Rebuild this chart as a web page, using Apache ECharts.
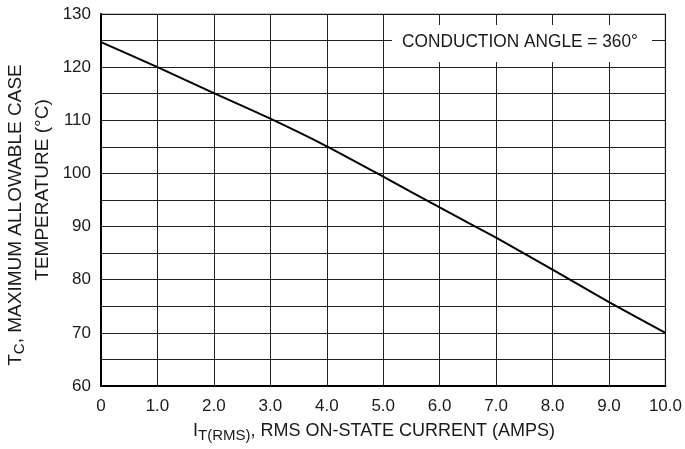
<!DOCTYPE html>
<html><head><meta charset="utf-8">
<script src="https://cdn.jsdelivr.net/npm/echarts@6/dist/echarts.min.js"></script>
<style>html,body{margin:0;padding:0;background:#fff}#c{width:685px;height:449px}</style>
</head><body><div id="c"></div>
<script>
var currentAmps = [0, 1, 2, 3, 4, 5, 6, 7, 8, 9, 10];
var caseTempC = [124.7, 120, 115.1, 110.3, 105.1, 99.4, 93.6, 87.9, 81.9, 75.8, 70];
var yTickLabels = [60, 70, 80, 90, 100, 110, 120, 130];
var noteText = 'CONDUCTION ANGLE = 360\u00b0';

var FONT = 'Liberation Sans';
var TXT = '#1a1a1a';
var chart = echarts.init(document.getElementById('c'), null, {renderer: 'canvas'});
chart.setOption({
  backgroundColor: '#fff',
  animation: false,
  grid: {left: 101, right: 19, top: 14, bottom: 63, show: false},
  xAxis: {
    type: 'value', min: 0, max: 10, interval: 1,
    axisLine: {show: true, onZero: false, lineStyle: {color: '#000', width: 2}},
    axisTick: {show: false},
    splitLine: {show: true, lineStyle: {color: '#222', width: 1}},
    axisLabel: {color: TXT, fontFamily: FONT, fontSize: 17, margin: 12,
      formatter: function (v) { return v === 0 ? '0' : v.toFixed(1); }}
  },
  yAxis: {
    type: 'value', min: 60, max: 130, interval: 5,
    axisLine: {show: true, onZero: false, lineStyle: {color: '#000', width: 2}},
    axisTick: {show: false},
    splitLine: {show: true, lineStyle: {color: '#222', width: 1}},
    axisLabel: {color: TXT, fontFamily: FONT, fontSize: 17, margin: 10,
      formatter: function (v) { return yTickLabels.indexOf(v) >= 0 ? String(v) : ''; }}
  },
  series: [{
    type: 'line', showSymbol: false, smooth: 0.2,
    lineStyle: {color: '#000', width: 2},
    data: currentAmps.map(function (x, i) { return [x, caseTempC[i]]; }),
    z: 5
  }, {
    type: 'line', silent: true, showSymbol: false,
    lineStyle: {color: '#111', width: 1.2},
    data: [[0, 130], [10, 130], [10, 60]],
    z: 4
  }],
  graphic: [
    {type: 'rect', shape: {x: 392, y: 25, width: 260, height: 37}, style: {fill: '#fff'}, z: 10},
    {type: 'text', x: 520, y: 42, scaleX: 0.96, z: 11, style: {text: noteText, font: '18px ' + FONT, fill: TXT, align: 'center', verticalAlign: 'middle'}},
    {type: 'text', x: 374, y: 431, z: 11, style: {
      text: '{b|I}{s|T(RMS)}{b|, RMS ON-STATE CURRENT (AMPS)}',
      align: 'center', verticalAlign: 'middle',
      rich: {b: {font: '18px ' + FONT, fill: TXT}, s: {font: '15px ' + FONT, fill: TXT, padding: [9, 0, 0, 0]}}
    }},
    {type: 'text', x: 16, y: 215, rotation: Math.PI / 2, z: 11, style: {
      text: '{b|T}{s|C}{b|, MAXIMUM ALLOWABLE CASE}',
      align: 'center', verticalAlign: 'middle',
      rich: {b: {font: '19px ' + FONT, fill: TXT}, s: {font: '15px ' + FONT, fill: TXT, padding: [8, 0, 0, 0]}}
    }},
    {type: 'text', x: 43, y: 190, rotation: Math.PI / 2, z: 11, style: {
      text: 'TEMPERATURE (\u00b0C)', font: '19px ' + FONT, fill: TXT, align: 'center', verticalAlign: 'middle'
    }}
  ]
});
</script></body></html>
